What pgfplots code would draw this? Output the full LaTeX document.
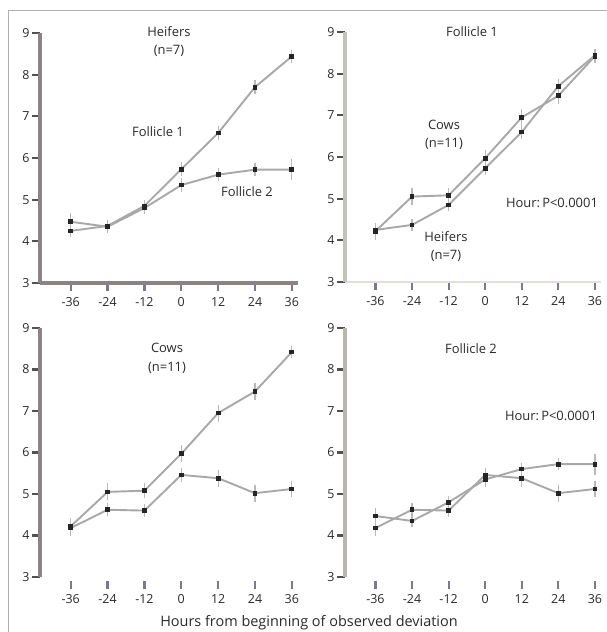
\documentclass[border=0pt]{standalone}
\usepackage{pgfplots}
\pgfplotsset{compat=1.18}
\usepackage{pgfplotstable}
\usepackage{fontspec}
\setmainfont{Open Sans}
\definecolor{axdark}{HTML}{8C8484}
\definecolor{axlight}{HTML}{C4C2BC}
\definecolor{serline}{HTML}{A8A8A8}
\definecolor{mk}{HTML}{252525}
\definecolor{tk}{HTML}{80788A}
\definecolor{txt}{HTML}{2A2A2A}
\definecolor{frame}{HTML}{B0B0B0}

\pgfplotstableread{
x y e
-36 4.25 0.10
-24 4.37 0.10
-12 4.85 0.10
0 5.73 0.12
12 6.60 0.12
24 7.70 0.12
36 8.44 0.10
}\heifA
\pgfplotstableread{
x y e
-36 4.47 0.15
-24 4.35 0.10
-12 4.80 0.10
0 5.35 0.12
12 5.60 0.10
24 5.72 0.10
36 5.72 0.20
}\heifB
\pgfplotstableread{
x y e
-36 4.22 0.15
-24 5.05 0.15
-12 5.08 0.12
0 5.97 0.15
12 6.95 0.15
24 7.47 0.15
36 8.42 0.10
}\cowA
\pgfplotstableread{
x y e
-36 4.18 0.15
-24 4.62 0.10
-12 4.60 0.10
0 5.46 0.12
12 5.38 0.15
24 5.02 0.15
36 5.12 0.15
}\cowB

\pgfplotsset{
  panel/.style={
    scale only axis, width=258bp, height=250bp,
    xmin=-46, xmax=38, ymin=3, ymax=9,
    xtick={-36,-24,-12,0,12,24,36},
    ytick={3,4,5,6,7,8,9},
    axis y line*=left, axis x line*=bottom,
    tick align=outside,
    major tick length=8bp,
    xtick style={line width=2.2bp, color=tk},
    ytick style={line width=2.2bp, color=mk!80},
    tick label style={font=\fontsize{12.5}{14}\selectfont, text=txt},
    /pgf/number format/assume math mode=true,
    xticklabel style={yshift=-3bp},
    yticklabel style={xshift=1bp},
    clip=false,
  },
  ser/.style={color=serline, line width=1.9bp, mark=square*, mark size=1.9bp,
    mark options={fill=mk, draw=mk, line width=0pt},
    error bars/.cd, y dir=both, y explicit,
    error bar style={color=serline!80, line width=1.2bp},
    error mark=-, error mark options={line width=1.2bp, mark size=2.2bp, color=serline!80}},
}

\begin{document}
\begin{tikzpicture}
\path[use as bounding box] (0bp,0bp) rectangle (607bp,632bp);
\draw[frame, line width=1bp] (8bp,0bp) -- (8bp,621bp) -- (607bp,621bp);

% top-left
\begin{axis}[panel, at={(40bp,349bp)}, anchor=south west,
  y axis line style={line width=4.5bp, color=axdark, -},
  x axis line style={line width=4bp, color=axdark, -}]
\addplot[ser] table[x=x, y=y, y error=e] {\heifB};
\addplot[ser] table[x=x, y=y, y error=e] {\heifA};
\end{axis}

% top-right
\begin{axis}[panel, at={(345bp,350bp)}, anchor=south west, width=256bp,
  y axis line style={line width=4.5bp, color=axlight, -},
  x axis line style={line width=2bp, color=axlight!50, -}]
\addplot[ser] table[x=x, y=y, y error=e] {\heifA};
\addplot[ser] table[x=x, y=y, y error=e] {\cowA};
\end{axis}

% bottom-left
\begin{axis}[panel, at={(40bp,55bp)}, anchor=south west, height=249bp,
  y axis line style={line width=4.5bp, color=axdark, -},
  x axis line style={draw=none},
  xtick style={line width=2.2bp, color=tk, yshift=-4bp},
  xticklabel style={yshift=-3bp}]
\addplot[ser] table[x=x, y=y, y error=e] {\cowB};
\addplot[ser] table[x=x, y=y, y error=e] {\cowA};
\end{axis}

% bottom-right
\begin{axis}[panel, at={(345bp,55bp)}, anchor=south west, width=256bp, height=249bp,
  y axis line style={line width=4.5bp, color=axlight!80!axdark, -},
  x axis line style={draw=none},
  xtick style={line width=2.2bp, color=tk, yshift=-4bp},
  xticklabel style={yshift=-3bp}]
\addplot[ser] table[x=x, y=y, y error=e] {\heifB};
\addplot[ser] table[x=x, y=y, y error=e] {\cowB};
\end{axis}

\begin{scope}[every node/.style={font=\fontsize{13}{15}\selectfont, text=txt, align=center}]
\node at (169bp,600bp) {Heifers};
\node at (169bp,581bp) {(n=7)};
\node at (158bp,500bp) {Follicle 1};
\node at (247bp,440bp) {Follicle 2};
\node at (472bp,600bp) {Follicle 1};
\node at (444bp,507bp) {Cows};
\node at (444bp,488bp) {(n=11)};
\node at (552bp,429bp) {Hour:\,P<0.0001};
\node at (446bp,395bp) {Heifers};
\node at (446bp,376bp) {(n=7)};
\node at (167bp,284bp) {Cows};
\node at (167bp,264bp) {(n=11)};
\node at (471bp,283bp) {Follicle 2};
\node at (551bp,216bp) {Hour:\,P<0.0001};
\node[font=\fontsize{14.5}{16}\selectfont] at (309bp,9bp) {Hours from beginning of observed deviation};
\end{scope}
\end{tikzpicture}
\end{document}
